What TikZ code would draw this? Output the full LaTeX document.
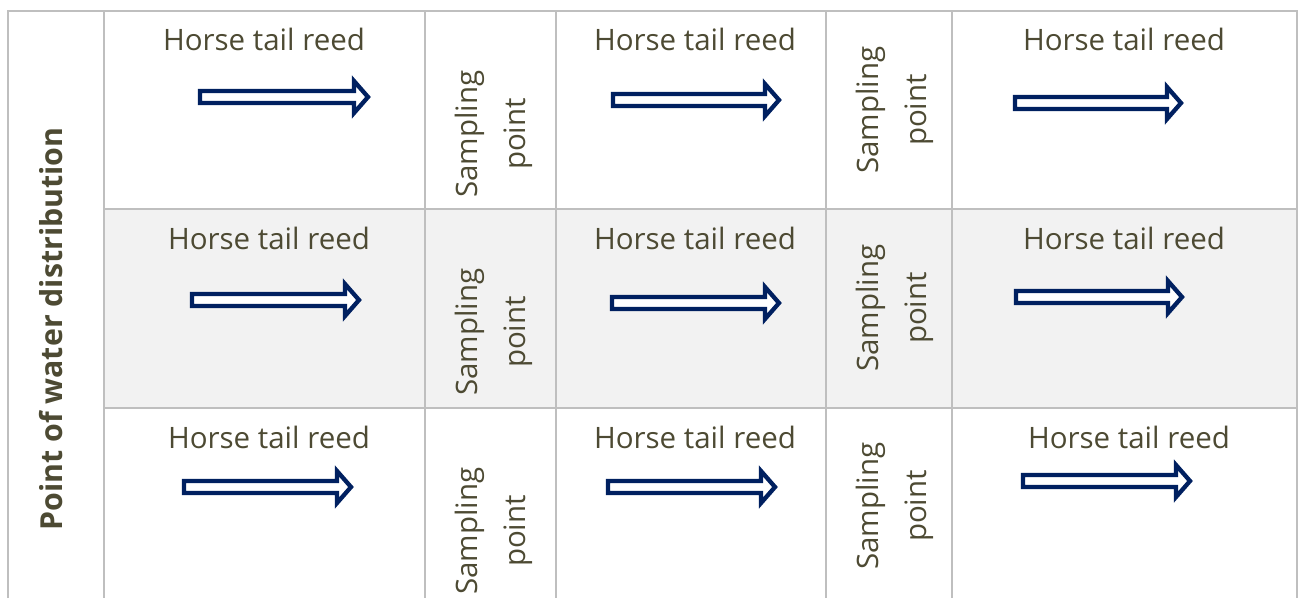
\documentclass[tikz,border=0pt]{standalone}
\usepackage{fontspec}
\setmainfont{Open Sans}

\definecolor{gridgray}{HTML}{BFBFBF}
\definecolor{rowshade}{HTML}{F2F2F2}
\definecolor{labeltext}{HTML}{4D4A33}
\definecolor{flownavy}{HTML}{002060}

% hollow block arrow: #1 left edge, #2 tip, #3 vertical centre
\newcommand\hollowarrow[3]{%
  \draw[flowarrow] ({#1+2},{#3-6}) -- ({#2-17},{#3-6}) -- ({#2-17},{#3-16})
    -- ({#2-3},{#3}) -- ({#2-17},{#3+16}) -- ({#2-17},{#3+6})
    -- ({#1+2},{#3+6}) -- cycle;}

\tikzset{
  gridline/.style={draw=gridgray, line width=2pt},
  flowarrow/.style={draw=flownavy, fill=white, line width=4.3pt, line join=miter},
  reedlabel/.style={text=labeltext, inner sep=0pt, anchor=base,
    font=\fontsize{29.5}{48}\selectfont},
  samplelabel/.style={text=labeltext, inner sep=0pt, rotate=90, align=center,
    font=\fontsize{29.5}{48}\selectfont},
  sidelabel/.style={text=labeltext, inner sep=0pt, rotate=90, anchor=base,
    font=\bfseries\fontsize{30.3}{36}\selectfont},
}

\begin{document}
\begin{tikzpicture}[x=1pt, y=-1pt]
\useasboundingbox (0,0) rectangle (1301,598);

% shaded middle row
\fill[rowshade] (104,209) rectangle (1297,408);

% table rules
\draw[gridline] (8,598) -- (8,11) -- (1297,11) -- (1297,598);
\foreach \cx in {104,425,556,826,952}
  \draw[gridline] (\cx,11) -- (\cx,598);
\foreach \ry in {209,408}
  \draw[gridline] (104,\ry) -- (1297,\ry);

% merged first column
\node[sidelabel] (dist) at (62,329) {Point of water distribution};

% reed labels
\node[reedlabel] (r11) at (264,50)  {Horse tail reed};
\node[reedlabel] (r13) at (695,50)  {Horse tail reed};
\node[reedlabel] (r15) at (1124,50) {Horse tail reed};
\node[reedlabel] (r21) at (269,249) {Horse tail reed};
\node[reedlabel] (r23) at (695,249) {Horse tail reed};
\node[reedlabel] (r25) at (1124,249) {Horse tail reed};
\node[reedlabel] (r31) at (269,448) {Horse tail reed};
\node[reedlabel] (r33) at (695,448) {Horse tail reed};
\node[reedlabel] (r35) at (1129,448) {Horse tail reed};

% flow arrows
\hollowarrow{198}{371}{97}
\hollowarrow{611}{782}{100}
\hollowarrow{1013}{1184}{103}
\hollowarrow{190}{362}{300}
\hollowarrow{610}{782}{303}
\hollowarrow{1014}{1185}{297}
\hollowarrow{182}{354}{487}
\hollowarrow{606}{778}{487}
\hollowarrow{1021}{1193}{481}

% sampling points
\node[samplelabel] (s12) at (494,134) {Sampling\\point};
\node[samplelabel] (s14) at (895,110) {Sampling\\point};
\node[samplelabel] (s22) at (494,332) {Sampling\\point};
\node[samplelabel] (s24) at (895,308) {Sampling\\point};
\node[samplelabel] (s32) at (494,531) {Sampling\\point};
\node[samplelabel] (s34) at (895,506) {Sampling\\point};
\end{tikzpicture}
\end{document}
